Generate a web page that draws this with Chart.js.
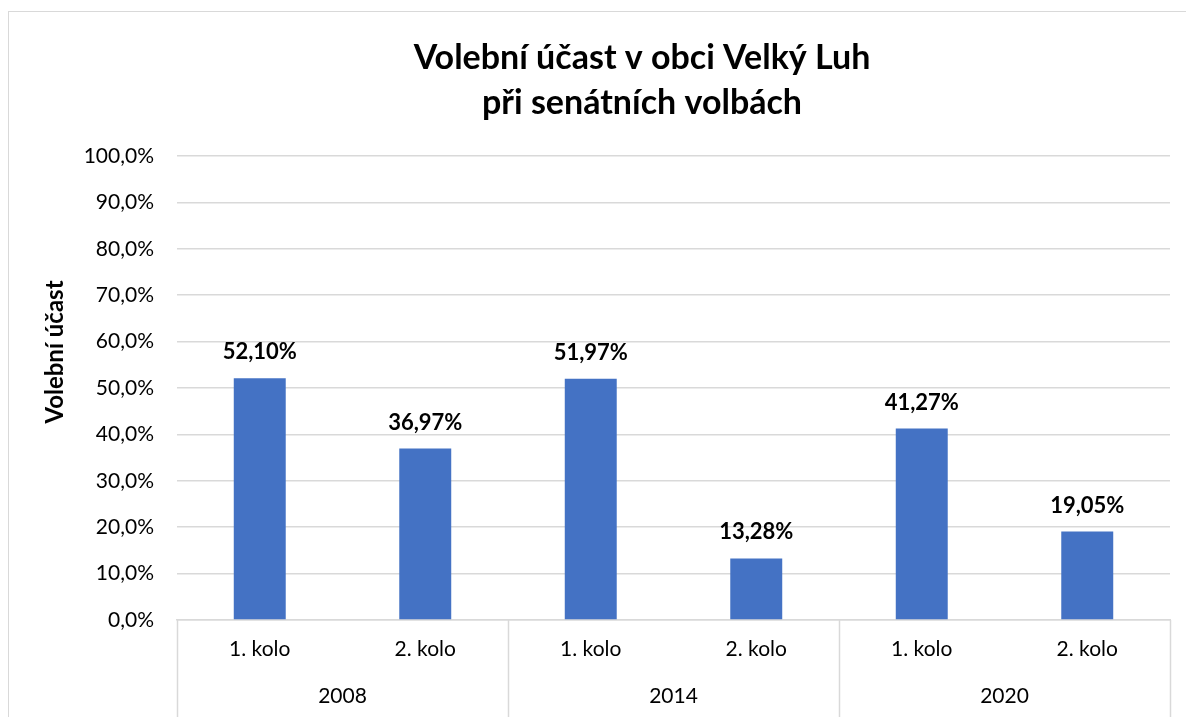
<!DOCTYPE html>
<html>
<head>
<meta charset="utf-8">
<script src="https://cdn.jsdelivr.net/npm/chart.js@4/dist/chart.umd.min.js"></script>
<style>
  html, body { margin: 0; padding: 0; background: #fff; overflow: hidden; }
  #frame { position: absolute; left: 8px; top: 11px; width: 1260px; height: 800px; border: 1px solid #d9d9d9; box-sizing: border-box; }
  #wrap { position: absolute; left: 0; top: 0; width: 1186px; height: 717px; }
</style>
</head>
<body>
<div id="frame"></div>
<div id="wrap"><canvas id="c" width="1186" height="717"></canvas></div>
<script>
const titleLines = ['Volební účast v obci Velký Luh', 'při senátních volbách'];
const yAxisTitle = 'Volební účast';
const rounds = ['1. kolo', '2. kolo', '1. kolo', '2. kolo', '1. kolo', '2. kolo'];
const years = ['2008', '2014', '2020'];
const turnout = [52.10, 36.97, 51.97, 13.28, 41.27, 19.05];
const yMin = 0, yMax = 100, yStep = 10;

const FONT = 'Lato, "Open Sans", sans-serif';
const GRID = '#d9d9d9';

const titlePlugin = {
  id: 'twoLineTitle',
  afterDraw(chart) {
    const ctx = chart.ctx;
    ctx.save();
    ctx.font = 'bold 34px ' + FONT;
    ctx.fillStyle = '#000';
    ctx.textAlign = 'center';
    ctx.textBaseline = 'middle';
    ctx.fillText(titleLines[0], 642, 58);
    ctx.fillText(titleLines[1], 642, 103);
    // y-axis title
    ctx.font = 'bold 24px ' + FONT;
    ctx.translate(55, 352);
    ctx.rotate(-Math.PI / 2);
    ctx.fillText(yAxisTitle, 0, 0);
    ctx.restore();
  }
};

const labelPlugin = {
  id: 'barLabels',
  afterDatasetsDraw(chart) {
    const ctx = chart.ctx;
    const meta = chart.getDatasetMeta(0);
    ctx.save();
    ctx.font = 'bold 22px ' + FONT;
    ctx.fillStyle = '#000';
    ctx.textAlign = 'center';
    ctx.textBaseline = 'middle';
    meta.data.forEach((bar, i) => {
      const txt = turnout[i].toFixed(2).replace('.', ',') + '%';
      ctx.fillText(txt, bar.x, bar.y - 26);
    });
    ctx.restore();
  }
};

const separatorPlugin = {
  id: 'groupSeparators',
  afterDraw(chart) {
    const ctx = chart.ctx;
    const x = chart.scales.x;
    const top = chart.chartArea.bottom;
    ctx.save();
    ctx.strokeStyle = GRID;
    ctx.lineWidth = 1.5;
    const per = rounds.length / years.length;
    for (let g = 0; g <= years.length; g++) {
      const px = Math.round(x.getPixelForValue(g * per - 0.5)) + 0.5;
      ctx.beginPath();
      ctx.moveTo(px, top);
      ctx.lineTo(px, chart.height);
      ctx.stroke();
    }
    ctx.restore();
  }
};

new Chart(document.getElementById('c'), {
  type: 'bar',
  data: {
    labels: rounds,
    datasets: [{
      data: turnout,
      backgroundColor: '#4472C4',
      borderWidth: 0,
      categoryPercentage: 1,
      barPercentage: 0.314
    }]
  },
  options: {
    responsive: false,
    animation: false,
    devicePixelRatio: 1,
    layout: { padding: { top: 156, right: 16, left: 0, bottom: 0 } },
    plugins: { legend: { display: false }, tooltip: { enabled: false }, title: { display: false } },
    scales: {
      y: {
        min: yMin, max: yMax,
        afterFit(s) { s.width = 177; },
        ticks: {
          stepSize: yStep,
          padding: 23,
          color: '#000',
          font: { family: FONT, size: 21 },
          callback: v => v.toFixed(1).replace('.', ',') + '%'
        },
        grid: { color: GRID, lineWidth: 1.5, drawTicks: false },
        border: { display: false },
        title: { display: false }
      },
      x: {
        position: 'bottom',
        afterFit(s) { s.height = 50; },
        ticks: { color: '#000', font: { family: FONT, size: 21 }, padding: 17, maxRotation: 0 },
        grid: { display: false, drawTicks: false },
        border: { display: true, color: GRID, width: 1.5 }
      },
      x2: {
        type: 'category',
        labels: years,
        position: 'bottom',
        offset: true,
        afterFit(s) { s.height = 47; },
        ticks: { color: '#000', font: { family: FONT, size: 21 }, padding: 14, maxRotation: 0 },
        grid: { display: false, drawTicks: false },
        border: { display: false }
      }
    }
  },
  plugins: [titlePlugin, labelPlugin, separatorPlugin]
});
</script>
</body>
</html>
